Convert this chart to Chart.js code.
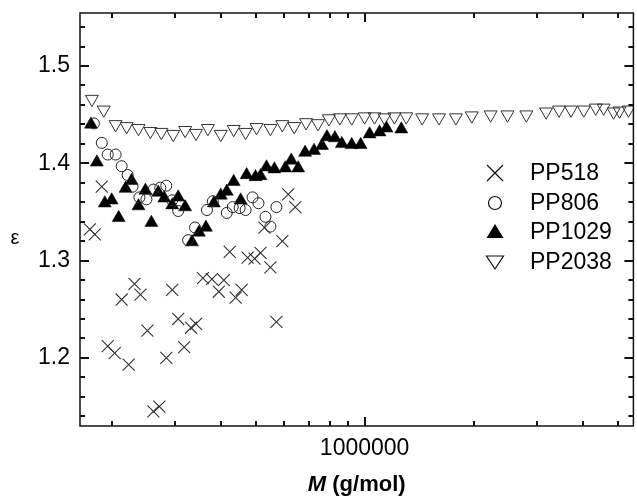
<!DOCTYPE html>
<html>
<head>
<meta charset="utf-8">
<script src="https://cdn.jsdelivr.net/npm/chart.js@4.4.0/dist/chart.umd.min.js"></script>
<style>
  html, body { margin: 0; padding: 0; background: #fff; overflow: hidden; }
  #wrap { width: 637px; height: 497px; overflow: hidden; }
</style>
</head>
<body>
<div id="wrap"><canvas id="chart" width="643" height="497"></canvas></div>
<script>
// values (M in g/mol, epsilon)
const pp518M = [174200, 179800, 187900, 195200, 204000, 213200, 222900, 231400, 240300, 251200,
  260900, 271000, 283300, 294100, 305500, 317300, 331500, 342100, 357600, 378500,
  395600, 408300, 424000, 440300, 457400, 475100, 496600, 515700, 528800, 549200,
  570500, 592400, 615200, 643100];
const pp518E = [1.332, 1.327, 1.376, 1.212, 1.205, 1.260, 1.193, 1.276, 1.265, 1.228,
  1.145, 1.150, 1.200, 1.270, 1.240, 1.211, 1.231, 1.235, 1.282, 1.281,
  1.268, 1.280, 1.309, 1.262, 1.270, 1.303, 1.302, 1.308, 1.334, 1.293,
  1.237, 1.320, 1.368, 1.355];

const pp806M = [178700, 187900, 195200, 205200, 213200, 221500, 228500, 238800, 249600, 260900,
  272600, 283300, 294100, 305500, 325400, 340000, 366800, 380900, 416100, 432100,
  451600, 469100, 490300, 509100, 532200, 549200, 570500];
const pp806E = [1.441, 1.421, 1.409, 1.409, 1.397, 1.388, 1.376, 1.365, 1.363, 1.373,
  1.375, 1.377, 1.362, 1.351, 1.321, 1.334, 1.352, 1.361, 1.349, 1.355,
  1.354, 1.352, 1.365, 1.359, 1.345, 1.335, 1.355];

const pp1029M = [175400, 182100, 191500, 200100, 209200, 218600, 227100, 237300, 248000, 257600,
  269200, 279600, 294100, 305500, 319300, 333600, 348600, 364400, 383300, 400600,
  416100, 434800, 454500, 472100, 499600, 515700, 535700, 563400, 603800, 627100,
  655300, 684900, 725000, 762500, 786900, 827600, 865000, 921200, 975100, 1032000,
  1099200, 1149000, 1262800];
const pp1029E = [1.440, 1.401, 1.359, 1.362, 1.344, 1.374, 1.382, 1.356, 1.372, 1.339,
  1.370, 1.364, 1.357, 1.365, 1.355, 1.319, 1.329, 1.334, 1.359, 1.367,
  1.371, 1.381, 1.362, 1.388, 1.386, 1.387, 1.396, 1.394, 1.395, 1.403,
  1.395, 1.411, 1.413, 1.418, 1.427, 1.426, 1.420, 1.419, 1.419, 1.430,
  1.432, 1.436, 1.435];

const pp2038M = [176500, 190300, 205200, 220100, 237300, 256000, 274400, 296000, 319300, 342100,
  369100, 400600, 434800, 469100, 502800, 549200, 592400, 639000, 689300, 743500,
  796700, 854100, 921200, 1000000, 1065100, 1134500, 1208300, 1303300, 1441900, 1605100,
  1786800, 1976500, 2228400, 2480600, 2796700, 3172000, 3443500, 3715400, 4031900, 4349100,
  4574000, 4872000, 5059200, 5355600];
const pp2038E = [1.466, 1.455, 1.440, 1.438, 1.436, 1.433, 1.432, 1.430, 1.434, 1.431,
  1.436, 1.430, 1.435, 1.432, 1.437, 1.436, 1.440, 1.438, 1.442, 1.441,
  1.446, 1.447, 1.447, 1.448, 1.448, 1.447, 1.448, 1.448, 1.447, 1.447,
  1.447, 1.449, 1.450, 1.450, 1.450, 1.453, 1.455, 1.455, 1.455, 1.457,
  1.457, 1.453, 1.454, 1.455];

const seriesNames = ['PP518', 'PP806', 'PP1029', 'PP2038'];

// tick marks (drawn inward) and the ticks that carry labels
const xTickValues = [200000, 300000, 400000, 500000, 600000, 700000, 800000, 900000,
  1000000, 2000000, 3000000, 4000000, 5000000];
const xLabelTicks = [1000000];
const yTickValues = [1.14, 1.16, 1.18, 1.20, 1.22, 1.24, 1.26, 1.28, 1.30, 1.32, 1.34,
  1.36, 1.38, 1.40, 1.42, 1.44, 1.46, 1.48, 1.50, 1.52, 1.54];
const yLabelTicks = [1.2, 1.3, 1.4, 1.5];

const FONT = "'Liberation Sans', Arial, sans-serif";

function pts(xs, ys) {
  return xs.map((x, i) => ({ x: x, y: ys[i] }));
}

function isLabelY(v) {
  return yLabelTicks.some(l => Math.abs(l - v) < 1e-6);
}

// frame, inward ticks, axis titles and the legend
const decorations = {
  id: 'decorations',
  afterDraw(chart) {
    const ctx = chart.ctx;
    const a = chart.chartArea;
    const xs = chart.scales.x, ys = chart.scales.y;
    ctx.save();
    ctx.strokeStyle = '#111';
    ctx.lineWidth = 1.5;
    ctx.strokeRect(a.left, a.top, a.right - a.left, a.bottom - a.top);

    ctx.fillStyle = '#111';
    xTickValues.forEach(v => {
      const px = Math.round(xs.getPixelForValue(v));
      const len = xLabelTicks.includes(v) ? 9 : 5;
      ctx.fillRect(px - 1, a.bottom - len, 2, len);
      ctx.fillRect(px - 1, a.top, 2, len);
    });
    yTickValues.forEach(v => {
      const py = Math.round(ys.getPixelForValue(v));
      const len = isLabelY(v) ? 9 : 5;
      ctx.fillRect(a.left, py - 1, len, 2);
      ctx.fillRect(a.right - len, py - 1, len, 2);
    });

    // axis titles
    ctx.fillStyle = '#000';
    ctx.textBaseline = 'middle';
    ctx.font = 'italic bold 22px ' + FONT;
    const wM = ctx.measureText('M').width;
    ctx.font = 'bold 22px ' + FONT;
    const rest = ' (g/mol)';
    const wR = ctx.measureText(rest).width;
    const cx = (a.left + a.right) / 2;
    const sx = cx - (wM + wR) / 2;
    ctx.font = 'italic bold 22px ' + FONT;
    ctx.textAlign = 'left';
    ctx.fillText('M', sx, 485);
    ctx.font = 'bold 22px ' + FONT;
    ctx.fillText(rest, sx + wM, 485);

    ctx.font = '20px ' + FONT;
    ctx.textAlign = 'center';
    ctx.fillText('\u03b5', 15, 238);

    // legend
    const lx = 495, tx = 530;
    const rows = [173, 203, 232, 262];
    ctx.font = '23px ' + FONT;
    ctx.textAlign = 'left';
    seriesNames.forEach((name, i) => {
      const y = rows[i];
      ctx.fillStyle = '#000';
      ctx.fillText(name, tx, y + 1);
      ctx.strokeStyle = '#111';
      ctx.lineWidth = 1.2;
      ctx.beginPath();
      if (i === 0) {
        ctx.moveTo(lx - 8, y - 8); ctx.lineTo(lx + 8, y + 8);
        ctx.moveTo(lx + 8, y - 8); ctx.lineTo(lx - 8, y + 8);
        ctx.stroke();
      } else if (i === 1) {
        ctx.arc(lx, y, 6.5, 0, Math.PI * 2);
        ctx.stroke();
      } else if (i === 2) {
        ctx.moveTo(lx, y - 8); ctx.lineTo(lx + 8.5, y + 6); ctx.lineTo(lx - 8.5, y + 6);
        ctx.closePath();
        ctx.fill();
      } else {
        ctx.moveTo(lx - 8.5, y - 6); ctx.lineTo(lx + 8.5, y - 6); ctx.lineTo(lx, y + 7);
        ctx.closePath();
        ctx.stroke();
      }
    });
    ctx.restore();
  }
};

new Chart(document.getElementById('chart'), {
  type: 'scatter',
  data: {
    datasets: [
      {
        label: seriesNames[0],
        data: pts(pp518M, pp518E),
        pointStyle: 'crossRot',
        pointRadius: 8.5,
        borderColor: '#333',
        borderWidth: 1.1,
        backgroundColor: 'rgba(0,0,0,0)'
      },
      {
        label: seriesNames[1],
        data: pts(pp806M, pp806E),
        pointStyle: 'circle',
        pointRadius: 5.5,
        borderColor: '#222',
        borderWidth: 1,
        backgroundColor: 'rgba(0,0,0,0)'
      },
      {
        label: seriesNames[2],
        data: pts(pp1029M, pp1029E),
        pointStyle: 'triangle',
        pointRadius: 7.5,
        borderColor: '#000',
        borderWidth: 0.5,
        backgroundColor: '#000'
      },
      {
        label: seriesNames[3],
        data: pts(pp2038M, pp2038E),
        pointStyle: 'triangle',
        rotation: 180,
        pointRadius: 7.5,
        borderColor: '#333',
        borderWidth: 1,
        backgroundColor: 'rgba(0,0,0,0)'
      }
    ]
  },
  options: {
    responsive: false,
    animation: false,
    devicePixelRatio: 1,
    layout: { padding: { top: 13, right: 2, left: 0, bottom: 0 } },
    plugins: {
      legend: { display: false },
      tooltip: { enabled: false }
    },
    scales: {
      x: {
        type: 'logarithmic',
        min: 163600,
        max: 5526000,
        grid: { display: false, drawTicks: false },
        border: { display: false },
        afterFit: s => { s.height = 71; s.paddingLeft = 0; s.paddingRight = 0; },
        ticks: {
          autoSkip: false,
          maxRotation: 0,
          padding: 9,
          color: '#000',
          font: { family: FONT, size: 23 },
          callback: v => xLabelTicks.includes(v) ? String(v) : ''
        }
      },
      y: {
        min: 1.13,
        max: 1.5545,
        grid: { display: false, drawTicks: false },
        border: { display: false },
        afterFit: s => { s.width = 80; s.paddingTop = 0; s.paddingBottom = 0; },
        ticks: {
          stepSize: 0.02,
          autoSkip: false,
          padding: 10,
          color: '#000',
          font: { family: FONT, size: 23 },
          callback: v => isLabelY(v) ? v.toFixed(1) : ''
        }
      }
    }
  },
  plugins: [decorations]
});
</script>
</body>
</html>
